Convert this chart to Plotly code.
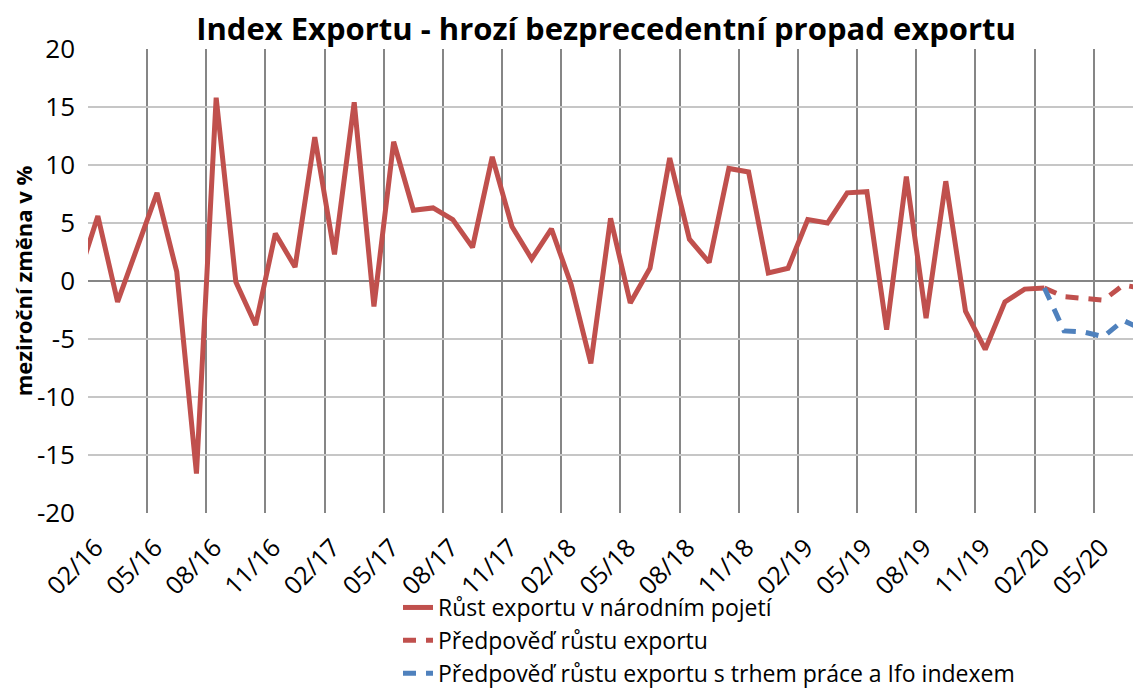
import plotly.graph_objects as go

# ---- data ----
months = ["01/16","02/16","03/16","04/16","05/16","06/16","07/16","08/16","09/16","10/16","11/16","12/16",
          "01/17","02/17","03/17","04/17","05/17","06/17","07/17","08/17","09/17","10/17","11/17","12/17",
          "01/18","02/18","03/18","04/18","05/18","06/18","07/18","08/18","09/18","10/18","11/18","12/18",
          "01/19","02/19","03/19","04/19","05/19","06/19","07/19","08/19","09/19","10/19","11/19","12/19",
          "01/20","02/20","03/20","04/20","05/20","06/20","07/20"]

export_growth = [0.3, 5.6, -1.8, 3.0, 7.6, 0.8, -16.6, 15.8, -0.1, -3.8, 4.1, 1.2,
                 12.4, 2.3, 15.4, -2.2, 12.0, 6.1, 6.3, 5.3, 2.9, 10.7, 4.7, 1.9,
                 4.5, -0.3, -7.1, 5.4, -1.9, 1.1, 10.6, 3.6, 1.6, 9.7, 9.4, 0.7,
                 1.1, 5.3, 5.0, 7.6, 7.7, -4.2, 9.0, -3.2, 8.6, -2.6, -5.9, -1.8,
                 -0.7, -0.6]
forecast_months = ["02/20","03/20","04/20","05/20","06/20","07/20"]
forecast = [-0.6, -1.35, -1.5, -1.65, -0.35, -0.65]
forecast_ifo = [-0.6, -4.3, -4.4, -4.8, -3.4, -4.2]

tick_labels = ["02/16","05/16","08/16","11/16","02/17","05/17","08/17","11/17","02/18","05/18",
               "08/18","11/18","02/19","05/19","08/19","11/19","02/20","05/20"]
y_tick_values = [-20, -15, -10, -5, 0, 5, 10, 15, 20]
y_tick_labels = ["-20", "-15", "-10", "-5", "0", "5", "10", "15", "20"]

idx = {m: i for i, m in enumerate(months)}
FONT = "Open Sans, sans-serif"
RED = "#C0504D"
BLUE = "#4F81BD"

fig = go.Figure()
fig.add_trace(go.Scatter(
    x=[idx[m] for m in months[:len(export_growth)]], y=export_growth,
    mode="lines", line=dict(color=RED, width=5),
    name="Růst exportu v národním pojetí"))
fig.add_trace(go.Scatter(
    x=[idx[m] for m in forecast_months], y=forecast,
    mode="lines", line=dict(color=RED, width=5, dash="13px,10px"),
    name="Předpověď růstu exportu"))
fig.add_trace(go.Scatter(
    x=[idx[m] for m in forecast_months], y=forecast_ifo,
    mode="lines", line=dict(color=BLUE, width=5, dash="13px,10px"),
    name="Předpověď růstu exportu s trhem práce a Ifo indexem"))

# vertical gridlines sit between categories (half a month before each labelled month)
grid_vals = [idx[t] - 0.5 for t in tick_labels]

W, H = 1133, 680          # page body has an 8px margin
L, T, B = 80, 41, 175
PH = H - T - B
PW = W - L

fig.update_layout(
    width=W, height=H,
    margin=dict(l=L, r=0, t=T, b=B, autoexpand=False),
    paper_bgcolor="white", plot_bgcolor="white",
    font=dict(family=FONT, color="black"),
    title=dict(text="<b>Index Exportu - hrozí bezprecedentní propad exportu</b>",
               x=598/W, xanchor="center", xref="container",
               y=1 - 21/H, yanchor="middle", yref="container",
               font=dict(size=31, family=FONT, color="black")),
    showlegend=True,
    legend=dict(x=(390-L)/PW, xanchor="left",
                y=(T+PH-578)/PH, yanchor="top",
                font=dict(size=23, family=FONT, color="black"),
                bgcolor="rgba(0,0,0,0)", tracegroupgap=0),
    xaxis=dict(range=[0.5, 53.9], tickmode="array", automargin=False,
               tickvals=[idx[t] for t in tick_labels], ticktext=tick_labels,
               tickangle=-45, tickfont=dict(size=25, family=FONT),
               ticklabelstandoff=14, ticklabelshift=-2,
               showgrid=False, zeroline=False, showline=False, ticks="",
               minor=dict(tickmode="array", tickvals=grid_vals, showgrid=True,
                          gridcolor="#868686", gridwidth=2, ticks="")),
    yaxis=dict(range=[-20, 20], tickmode="array", automargin=False,
               tickvals=y_tick_values, ticktext=y_tick_labels,
               tickfont=dict(size=26, family=FONT),
               showgrid=True, gridcolor="#C6C6C6", gridwidth=2,
               zeroline=True, zerolinecolor="#868686", zerolinewidth=2,
               showline=False, ticks="", ticklabelstandoff=12,
               title=dict(text="<b>meziroční změna v %</b>", standoff=8,
                          font=dict(size=22, family=FONT))),
)

fig.write_html("out.html")
